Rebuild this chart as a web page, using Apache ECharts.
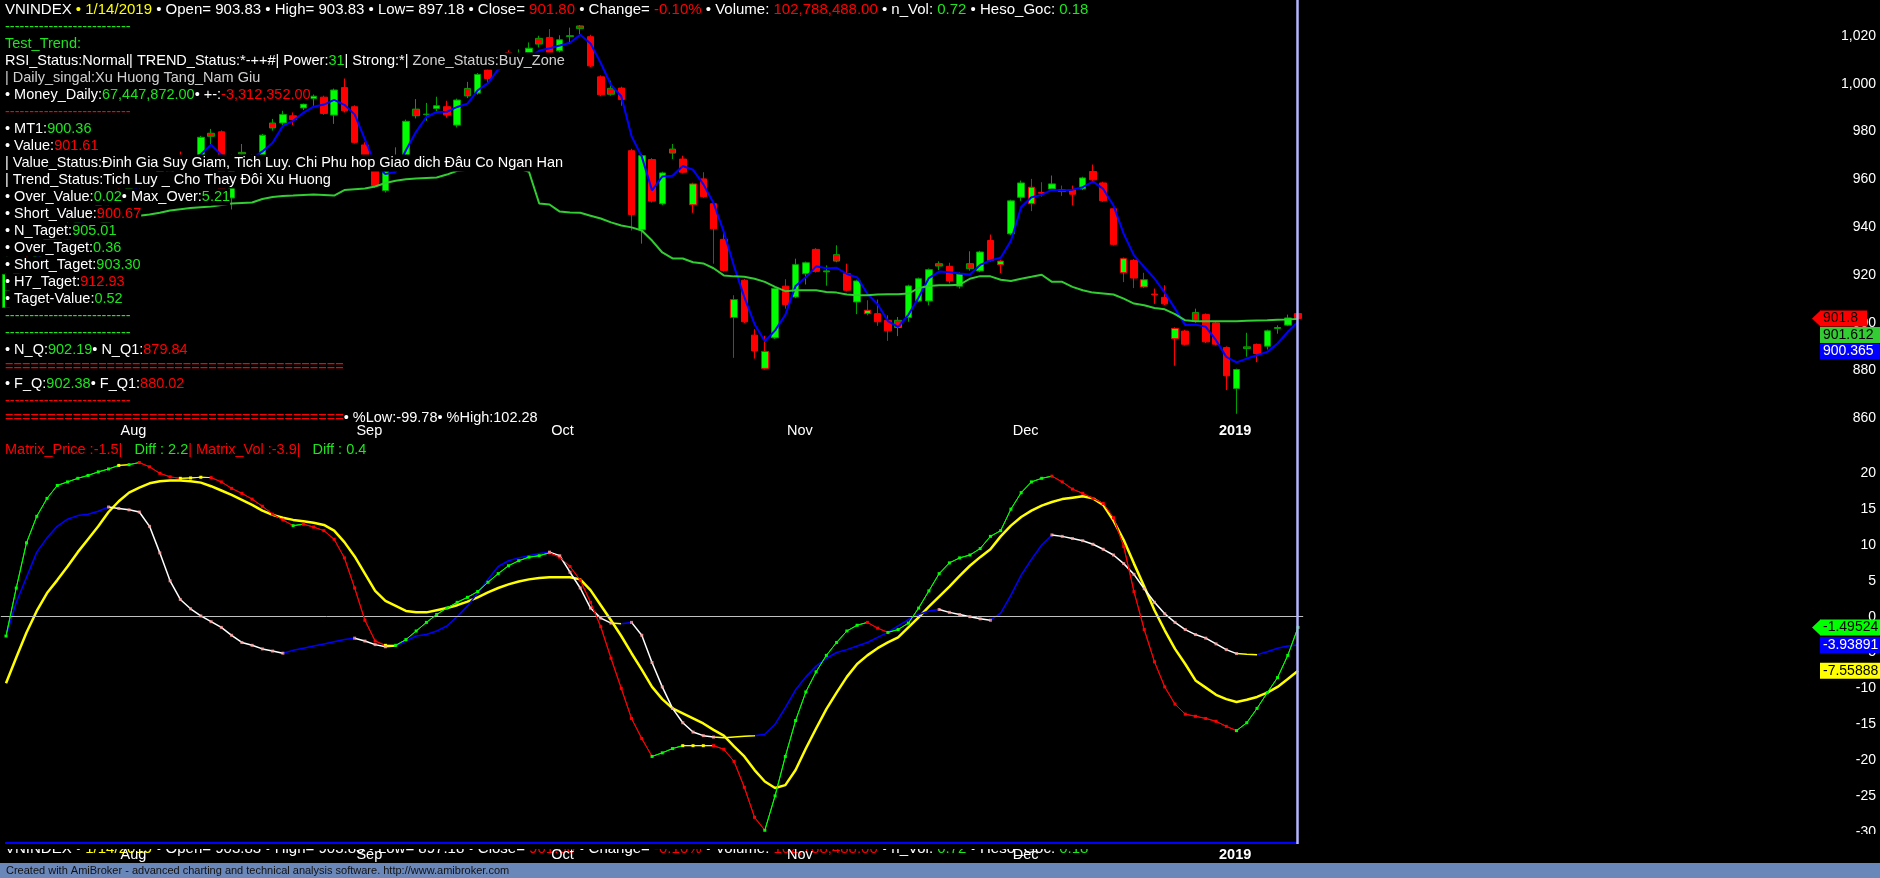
<!DOCTYPE html>
<html><head><meta charset="utf-8">
<script src="https://cdn.jsdelivr.net/npm/echarts@6/dist/echarts.min.js"></script>
<style>html,body{margin:0;padding:0;background:#000;}#c{width:1880px;height:878px;}</style>
</head><body><div id="c"></div>
<script>
// ---------------- DATA ----------------
const monthDays = [
  ['2018-07', [18,19,20,23,24,25,26,27,30,31]],
  ['2018-08', [1,2,3,6,7,8,9,10,13,14,15,16,17,20,21,22,23,24,27,28,29,30,31]],
  ['2018-09', [4,5,6,7,10,11,12,13,14,17,18,19,20,21,24,25,26,27,28]],
  ['2018-10', [1,2,3,4,5,8,9,10,11,12,15,16,17,18,19,22,23,24,25,26,29,30,31]],
  ['2018-11', [1,2,5,6,7,8,9,12,13,14,15,16,19,20,21,22,23,26,27,28,29,30]],
  ['2018-12', [3,4,5,6,7,10,11,12,13,14,17,18,19,20,21,24,25,26,27,28,31]],
  ['2019-01', [2,3,4,7,8,9,10,11,14]]
];
const monthTickLabels = ['', 'Aug', 'Sep', 'Oct', 'Nov', 'Dec', '2019'];

// [open, close, low, high]
const ohlc = [
[906.4,920.2,904.5,921.5],[920.5,926.0,918.0,927.5],[926.5,924.0,921.5,929.0],[924.5,932.0,923.5,933.0],[932.5,936.8,930.5,938.0],
[937.0,934.5,932.5,939.0],[935.0,941.5,934.0,942.5],[942.0,945.8,940.5,947.0],[946.0,944.0,942.5,948.0],[944.5,950.5,943.5,951.5],
[951.0,954.2,948.5,955.5],[954.5,952.0,950.5,957.0],[952.5,957.8,951.5,958.5],[958.0,961.2,956.0,962.5],[961.0,959.5,957.5,963.0],
[959.8,963.6,958.5,964.8],[963.0,966.8,961.5,967.5],[968.5,966.0,963.5,971.6],[966.0,967.8,964.8,969.8],[967.5,977.6,966.8,978.2],
[979.3,978.0,974.1,981.1],[979.9,955.0,953.0,980.5],[952.2,969.5,947.4,970.3],[971.3,970.6,968.5,974.8],[970.0,966.0,963.0,970.4],
[966.5,978.5,965.5,979.0],[983.6,981.5,980.4,985.3],[983.6,987.1,982.5,988.7],[986.6,985.0,982.7,988.0],[989.9,991.5,989.0,992.5],
[993.8,994.8,990.8,995.5],[994.4,987.6,987.0,995.0],[986.9,997.4,983.2,998.0],[998.4,988.7,988.0,1002.2],[990.4,975.5,975.0,991.0],
[974.4,966.0,964.5,975.5],[966.5,957.4,956.5,967.0],[955.3,963.3,954.5,964.0],[964.0,969.0,963.5,973.4],[968.0,984.3,967.0,985.0],
[989.4,986.6,985.5,993.6],[987.1,987.3,984.5,992.0],[989.7,990.8,988.5,994.6],[990.4,986.9,985.8,992.9],[982.7,993.2,981.7,993.8],
[998.0,994.9,994.0,1000.8],[996.1,1003.9,995.5,1004.5],[1005.8,1002.2,999.9,1006.5],[1007.5,1012.0,1007.0,1013.0],[1013.0,1009.0,1008.0,1014.0],
[1012.5,1010.0,1008.5,1014.4],[1013.1,1014.9,1011.5,1017.3],[1019.0,1016.6,1015.2,1020.1],[1019.4,1013.1,1012.5,1022.9],[1013.8,1018.4,1013.0,1020.3],
[1019.8,1020.1,1016.6,1023.5],[1024.2,1023.1,1020.7,1024.6],[1019.7,1007.5,1007.0,1020.5],[1002.9,995.4,994.8,1003.5],[998.1,995.6,995.0,1001.3],
[998.2,993.4,990.8,998.8],[972.0,945.3,938.6,972.8],[938.9,969.9,933.1,970.5],[968.3,950.9,950.3,968.9],[949.8,962.7,949.2,963.2],
[972.7,971.0,968.5,974.8],[968.5,963.0,962.5,969.9],[949.4,958.1,946.0,958.6],[960.2,952.8,952.3,963.0],[949.8,939.3,924.7,950.3],
[934.9,921.9,921.4,938.2],[902.2,909.7,885.3,911.5],[917.8,900.4,899.9,918.3],[894.8,888.2,885.0,897.3],[880.9,888.0,880.4,894.5],
[893.7,914.3,893.2,914.8],[915.3,907.6,905.9,918.2],[910.8,924.3,910.3,926.8],[920.5,925.1,916.0,925.6],[930.7,921.5,921.0,931.2],
[921.3,921.7,915.5,924.0],[928.5,925.8,925.3,932.4],[920.5,913.6,913.1,924.7],[908.7,917.5,903.6,918.0],[903.8,905.2,903.1,909.4],
[903.8,900.4,898.7,909.7],[901.0,896.6,892.4,903.1],[901.0,898.0,894.4,902.4],[902.2,915.4,900.4,915.9],[909.1,918.4,908.6,918.9],
[909.1,922.2,907.3,922.7],[924.7,923.7,922.0,925.7],[923.6,917.5,916.4,925.1],[915.3,920.5,914.3,921.0],[924.7,922.6,921.8,929.9],
[921.7,929.6,921.2,930.1],[934.4,926.1,925.6,936.9],[924.3,925.8,920.8,926.3],[937.2,951.0,936.7,951.5],[952.5,958.5,951.0,959.5],
[949.8,956.7,946.7,960.2],[954.5,954.2,952.8,958.8],[956.0,958.1,955.5,961.6],[955.7,954.9,953.1,957.4],[955.7,953.8,949.1,957.4],
[956.0,960.6,955.5,961.1],[963.3,959.8,959.3,966.2],[958.5,951.1,950.6,959.0],[947.7,932.8,932.3,948.2],[921.0,926.8,917.0,927.3],
[926.1,918.7,914.5,926.6],[915.0,918.0,914.5,920.9],[912.0,911.7,907.9,914.3],[910.6,907.9,907.4,915.7],[893.4,897.6,882.0,898.1],
[896.5,891.0,890.5,897.0],[904.3,900.6,900.0,905.9],[903.4,892.0,891.5,903.9],[899.9,891.0,890.5,900.4],[889.6,877.8,871.8,890.1],
[872.5,880.4,861.9,880.8],[889.9,889.2,885.8,895.8],[890.9,887.1,883.5,891.3],[890.2,896.6,888.8,897.1],[897.6,898.0,895.4,898.9],
[899.0,902.0,898.6,903.4],[903.83,901.80,897.18,903.83]
];

// blue line (MT1)
const mt1 = [915.0,918.5,923.4,927.3,930.9,934.4,937.6,940.6,943.8,946.8,
 949.6,952.2,954.7,957.0,959.5,961.4,963.3,965.5,966.9,970.5,
 974.5,970.2,967.5,965.0,968.7,971.7,975.3,982.4,984.5,987.9,
 990.4,991.3,993.3,991.2,987.2,976.7,966.3,962.2,963.2,972.2,
 980.0,986.1,988.2,988.3,990.3,991.7,997.3,1000.3,1006.0,1007.7,
 1010.3,1011.3,1013.8,1014.9,1016.0,1017.2,1020.5,1016.9,1008.7,999.5,
 994.8,978.1,969.5,955.4,961.2,961.5,965.6,964.0,958.0,950.1,
 938.0,923.6,910.7,899.4,892.2,896.8,903.3,915.4,919.0,923.6,
 922.8,923.0,920.4,919.0,912.1,907.7,900.7,898.3,903.3,910.6,
 918.7,921.4,921.1,920.6,920.2,924.2,926.1,927.2,934.3,948.4,
 952.5,953.5,955.7,955.3,955.7,956.7,959.1,956.0,949.1,937.2,
 928.2,923.3,918.5,912.6,905.9,899.0,899.2,898.3,892.7,885.7,
 883.4,885.0,886.4,887.8,891.3,896.2,900.365];

// green line (Value)
const valueLine = [928.0,929.5,931.0,932.5,934.0,935.5,937.0,938.5,940.0,941.2,
 942.3,943.3,944.2,944.8,945.3,946.0,947.0,947.5,948.0,948.3,
 948.6,949.3,949.9,950.1,950.3,951.8,952.6,953.0,953.2,953.5,
 953.7,953.5,953.2,955.5,955.9,956.2,957.0,958.5,959.4,960.0,
 960.4,960.6,960.8,962.0,963.6,964.0,964.5,965.0,965.2,965.0,
 964.5,963.2,949.9,949.5,946.5,946.1,946.0,944.8,943.6,942.0,
 940.7,939.9,938.6,934.4,929.4,926.9,926.9,925.3,924.8,922.8,
 919.8,919.4,919.2,918.4,917.1,915.0,913.2,913.6,913.6,913.6,
 912.9,912.6,911.8,911.5,911.5,911.8,911.9,911.9,912.2,914.5,
 915.4,915.7,915.7,915.9,918.4,919.5,919.4,918.0,917.5,918.4,
 919.2,920.1,917.1,917.1,915.0,913.6,912.6,912.2,911.8,910.1,
 908.0,907.3,906.2,905.6,903.6,901.0,900.6,900.6,900.6,900.6,
 900.6,900.8,900.9,901.0,901.2,901.3,901.612];

// lower pane
const matrixPrice = [-2.7,4.0,10.3,14.0,16.5,18.3,18.8,19.3,19.7,20.2,
 20.6,21.1,21.2,21.5,20.9,20.0,19.5,19.3,19.35,19.45,
 19.4,18.8,17.9,17.2,16.4,15.4,14.3,13.5,12.7,12.9,
 12.5,12.0,10.8,8.2,4.0,-0.5,-3.4,-4.0,-4.0,-3.2,
 -2.0,-0.8,0.3,1.2,2.0,2.7,3.5,4.8,6.0,7.1,
 7.8,8.3,8.5,8.9,8.3,7.0,5.1,2.0,-1.4,-5.8,
 -10.0,-14.2,-17.0,-19.5,-19.0,-18.4,-18.0,-18.0,-18.0,-18.0,
 -18.5,-20.2,-23.8,-28.0,-29.8,-25.0,-19.5,-14.5,-10.5,-7.7,
 -5.4,-3.6,-2.0,-1.2,-0.8,-1.6,-2.2,-1.8,-0.9,1.2,
 3.6,6.0,7.5,8.2,8.6,9.5,11.2,12.0,15.0,17.3,
 18.8,19.3,19.6,18.8,17.8,17.2,16.5,15.8,13.8,9.8,
 3.5,-1.8,-6.3,-9.8,-12.2,-13.6,-13.9,-14.2,-14.6,-15.3,
 -15.9,-14.8,-12.8,-10.6,-8.5,-5.4,-1.49524];

const matrixVol = [-2.7,2.0,5.5,9.0,11.0,12.6,13.6,14.1,14.3,14.7,
 15.3,15.1,14.9,14.6,12.6,8.9,5.0,2.4,1.1,0.1,
 -0.7,-1.5,-2.6,-3.6,-4.0,-4.5,-4.8,-5.1,-4.7,-4.4,
 -4.1,-3.8,-3.5,-3.2,-3.0,-3.4,-3.9,-4.2,-4.1,-3.4,
 -2.7,-2.5,-2.0,-1.3,0.0,1.5,3.3,5.2,7.0,7.8,
 8.2,8.5,8.8,9.0,8.5,6.2,4.0,1.2,-0.2,-0.9,
 -1.0,-0.8,-2.6,-6.4,-9.8,-12.8,-14.8,-16.1,-16.6,-16.8,
 -16.9,-16.8,-16.7,-16.6,-16.4,-15.0,-12.7,-10.2,-8.4,-6.9,
 -5.8,-5.0,-4.6,-4.1,-3.6,-2.9,-2.2,-1.3,-0.4,0.3,
 0.8,1.0,0.6,0.3,0.0,-0.3,-0.5,0.5,3.0,5.8,
 8.0,10.0,11.4,11.2,10.9,10.6,10.1,9.4,8.6,7.4,
 5.9,3.9,2.0,0.4,-0.8,-1.8,-2.5,-3.0,-3.8,-4.6,
 -5.15,-5.25,-5.3,-4.9,-4.4,-4.1,-3.93891];

const signalLine = [-9.3,-5.7,-2.2,0.8,3.3,5.1,7.0,9.0,10.8,12.6,
 14.6,16.1,17.3,18.0,18.6,18.9,19.0,19.0,18.9,18.7,
 18.2,17.6,17.0,16.3,15.6,14.8,14.2,13.8,13.5,13.3,
 13.1,12.8,12.0,10.4,8.4,6.0,3.6,2.2,1.5,0.8,
 0.6,0.6,0.9,1.2,1.6,2.1,2.7,3.4,4.0,4.5,
 4.9,5.2,5.4,5.5,5.5,5.5,5.2,3.7,1.6,-0.5,
 -2.7,-5.1,-7.4,-9.8,-11.5,-12.8,-13.5,-14.2,-14.9,-15.8,
 -16.6,-18.1,-19.5,-21.4,-23.0,-23.9,-23.5,-21.4,-18.4,-15.6,
 -12.9,-10.6,-8.4,-6.6,-5.4,-4.4,-3.6,-2.9,-1.5,-0.1,
 1.4,2.8,4.2,5.7,7.1,8.3,9.4,11.2,12.7,13.9,
 14.8,15.5,16.0,16.4,16.6,16.8,16.5,15.6,13.4,10.7,
 7.4,4.2,0.9,-1.9,-4.5,-6.6,-8.9,-9.9,-10.9,-11.5,
 -11.9,-11.6,-11.2,-10.6,-9.8,-8.7,-7.55888];

const priceAxis = {min: 860, max: 1020, interval: 20};
const oscAxis = {min: -30, max: 20, interval: 5};
const lastClose = 901.80;

// ---------------- TEXT ----------------
const W = '#ffffff', G = '#1ee61e', R = '#ff0000', Y = '#ffff00', L = '#d0d0d0';
const DASH = '--------------------------';
const EQ = '========================================';
const titleParts = [['VNINDEX', W], [' \u2022 1/14/2019', Y], [' \u2022 Open= 903.83 \u2022 High= 903.83 \u2022 Low= 897.18 \u2022 Close= ', W], ['901.80', R],
  [' \u2022 Change= ', W], ['-0.10%', R], [' \u2022 Volume: ', W], ['102,788,488.00', R], [' \u2022 n_Vol: ', W], ['0.72', G], [' \u2022 Heso_Goc: ', W], ['0.18', G]];
const textRows = [
  titleParts,
  [[DASH, G]],
  [['Test_Trend:', G]],
  [['RSI_Status:Normal| TREND_Status:*-++#| Power:', W], ['31', G], ['| Strong:*| ', W], ['Zone_Status:Buy_Zone', L]],
  [['| Daily_singal:Xu Huong Tang_Nam Giu', L]],
  [['\u2022 Money_Daily:', W], ['67,447,872.00', G], ['\u2022 +-:', W], ['-3,312,352.00', R]],
  [[DASH, R]],
  [['\u2022 MT1:', W], ['900.36', G]],
  [['\u2022 Value:', W], ['901.61', R]],
  [['| Value_Status:\u0110inh Gia Suy Giam, Tich Luy. Chi Phu hop Giao dich \u0110\u00e2u Co Ngan Han', W]],
  [['| Trend_Status:Tich Luy _ Cho Thay \u0110\u00f4i Xu Huong', W]],
  [['\u2022 Over_Value:', W], ['0.02', G], ['\u2022 Max_Over:', W], ['5.21', G]],
  [['\u2022 Short_Value:', W], ['900.67', R]],
  [['\u2022 N_Taget:', W], ['905.01', G]],
  [['\u2022 Over_Taget:', W], ['0.36', G]],
  [['\u2022 Short_Taget:', W], ['903.30', G]],
  [['\u2022 H7_Taget:', W], ['912.93', R]],
  [['\u2022 Taget-Value:', W], ['0.52', G]],
  [[DASH, G]],
  [[DASH, G]],
  [['\u2022 N_Q:', W], ['902.19', G], ['\u2022 N_Q1:', W], ['879.84', R]],
  [[EQ, R]],
  [['\u2022 F_Q:', W], ['902.38', G], ['\u2022 F_Q1:', W], ['880.02', R]],
  [[DASH, R]],
  [[EQ, R], ['\u2022 %Low:-99.78\u2022 %High:102.28', W]]
];
const oscTitle = [['Matrix_Price :-1.5|', R], ['   Diff : 2.2', G], ['| Matrix_Vol :-3.9|', R], ['   Diff : 0.4', G]];

// ---------------- BUILD ----------------
const dates = [];
const monthStart = [];
monthDays.forEach(([ym, days]) => { monthStart.push(dates.length); days.forEach(d => dates.push(ym + '-' + String(d).padStart(2, '0'))); });

const N = dates.length;
const FONT = '14.5px "Liberation Sans", Arial, sans-serif';
const TITLEFONT = '15px "Liberation Sans", Arial, sans-serif';
const TAGFONT = '14px "Liberation Sans", Arial, sans-serif';

const candleItems = ohlc.map((v, j) => {
  const prev = j > 0 ? ohlc[j - 1][1] : v[0];
  const bc = v[1] >= prev ? '#00a000' : '#ff0000';
  return {value: v, itemStyle: {borderColor: bc, borderColor0: bc}};
});

function sections(vals, upC, downC, flatC, thr) {
  const pieces = [];
  let start = 0, cur = null;
  for (let j = 0; j < vals.length - 1; j++) {
    const d = vals[j + 1] - vals[j];
    const c = Math.abs(d) < thr ? flatC : (d > 0 ? upC : downC);
    if (c !== cur) {
      if (cur !== null) pieces.push({gte: start, lt: j, color: cur});
      start = j; cur = c;
    }
  }
  pieces.push({gte: start, lte: vals.length - 1, color: cur});
  return pieces;
}
const THR = 0.15;
const piecesA = sections(matrixPrice, '#00ff00', '#ff0000', '#ffff00', THR);
const piecesB = sections(matrixVol, '#0000ff', '#ffffff', '#ffff00', THR);
const bDots = matrixVol.map((v, j) => {
  const downIn = j > 0 && v < matrixVol[j - 1] - THR;
  const downOut = j < N - 1 && matrixVol[j + 1] < v - THR;
  return (downIn || downOut) ? v : '-';
});

const GRID_LEFT = 0.873, GRID_W = 1302.3;
const LABEL_RIGHT = 1876;
const axisX = (gi) => ({type: 'category', data: dates, gridIndex: gi, boundaryGap: true,
  axisLine: {show: false}, axisTick: {show: false}, axisLabel: {show: false}, splitLine: {show: false}});
const axisY = (gi, cfg, fmt) => ({type: 'value', gridIndex: gi, position: 'right', min: cfg.min, max: cfg.max, interval: cfg.interval,
  axisLine: {show: false}, axisTick: {show: false}, splitLine: {show: false},
  axisLabel: {color: '#ffffff', fontSize: 14, fontFamily: 'Liberation Sans', align: 'right',
    margin: LABEL_RIGHT - (GRID_LEFT + GRID_W), formatter: fmt}});

const option = {
  backgroundColor: '#000000',
  animation: false,
  grid: [
    {left: GRID_LEFT, width: GRID_W, top: 36, height: 382.3, outerBoundsMode: 'none'},
    {left: GRID_LEFT, width: GRID_W, top: 473.3, height: 358.4, outerBoundsMode: 'none'}
  ],
  xAxis: [axisX(0), axisX(1)],
  yAxis: [
    axisY(0, priceAxis, v => v.toLocaleString('en-US')),
    axisY(1, oscAxis, v => String(v))
  ],
  visualMap: [
    {type: 'piecewise', show: false, dimension: 0, seriesIndex: 3, pieces: piecesA},
    {type: 'piecewise', show: false, dimension: 0, seriesIndex: 4, pieces: piecesB}
  ],
  series: [
    {type: 'candlestick', xAxisIndex: 0, yAxisIndex: 0, data: candleItems, barWidth: 7, clip: false, z: 2,
      itemStyle: {color: '#00ff00', color0: '#ff0000', borderColor: '#00a000', borderColor0: '#ff0000', borderWidth: 1}},
    {type: 'line', xAxisIndex: 0, yAxisIndex: 0, data: mt1, symbol: 'none', clip: false, z: 3,
      lineStyle: {color: '#0000ff', width: 2}, itemStyle: {color: '#0000ff'}},
    {type: 'line', xAxisIndex: 0, yAxisIndex: 0, data: valueLine, symbol: 'none', clip: false, z: 3,
      lineStyle: {color: '#32cd32', width: 2}, itemStyle: {color: '#32cd32'}},
    {type: 'line', xAxisIndex: 1, yAxisIndex: 1, data: matrixPrice, symbol: 'rect', symbolSize: 3, showSymbol: true, showAllSymbol: true,
      clip: false, z: 5, lineStyle: {width: 1}},
    {type: 'line', xAxisIndex: 1, yAxisIndex: 1, data: matrixVol, symbol: 'none', clip: false, z: 4, lineStyle: {width: 1.5}},
    {type: 'scatter', xAxisIndex: 1, yAxisIndex: 1, data: bDots, symbol: 'rect', symbolSize: 3, z: 6,
      itemStyle: {color: '#ffa0a0'}},
    {type: 'line', xAxisIndex: 1, yAxisIndex: 1, data: signalLine, symbol: 'none', clip: false, z: 3,
      lineStyle: {color: '#ffff00', width: 2.5}, itemStyle: {color: '#ffff00'},
      markLine: {silent: true, symbol: ['none', 'none'], label: {show: false},
        lineStyle: {color: '#c0c0c0', width: 1, type: 'solid'}, data: [{yAxis: 0}]}}
  ]
};

const chart = echarts.init(document.getElementById('c'), null, {renderer: 'canvas'});
chart.setOption(option);

// ---------------- OVERLAYS ----------------
function richText(x, y, parts, z, bg, font) {
  const f = font || FONT;
  let txt = ''; const rich = {};
  parts.forEach(([s, col], k) => { const key = 'p' + k; rich[key] = {fill: col, font: f}; txt += '{' + key + '|' + s + '}'; });
  const style = {text: txt, rich: rich, font: f, fill: '#fff', verticalAlign: 'middle', align: 'left', lineHeight: 17};
  if (bg) style.backgroundColor = bg;
  return {type: 'text', x: x, y: y, z: z, silent: true, style: style};
}
const g = [];
textRows.forEach((parts, k) => g.push(richText(5, 10 + 17 * k, parts, 100, '#000000', k === 0 ? TITLEFONT : FONT)));
g.push(richText(5, 450, oscTitle, 100, null));

// bottom (clipped) title + cover
g.push(richText(5, 849, titleParts, 90, null, TITLEFONT));
g.push({type: 'rect', z: 95, silent: true, shape: {x: 0, y: 834, width: 1880, height: 15}, style: {fill: '#000000'}});

// separators
g.push({type: 'line', z: 120, silent: true, shape: {x1: 5, y1: 843, x2: 1297, y2: 843}, style: {stroke: '#0000ff', lineWidth: 2}});
g.push({type: 'line', z: 120, silent: true, shape: {x1: 1297.5, y1: 0, x2: 1297.5, y2: 844}, style: {stroke: '#b4b4ff', lineWidth: 2.5}});

// month labels
monthStart.forEach((idx, m) => {
  const lab = monthTickLabels[m];
  if (!lab) return;
  const isYear = /^\d{4}$/.test(lab);
  const x = chart.convertToPixel({xAxisIndex: 0}, idx) + (isYear ? 3 : 12);
  const font = (isYear ? 'bold ' : '') + FONT;
  [431, 855].forEach(y => g.push({type: 'text', z: 130, silent: true, x: x, y: y,
    style: {text: lab, font: font, fill: '#ffffff', verticalAlign: 'middle', align: 'left'}}));
});

// price tags
function tags(list, yAxisIndex) {
  const pts = list.map(t => Object.assign({}, t, {y: chart.convertToPixel({yAxisIndex: yAxisIndex}, t.value)}));
  pts.sort((a, b) => a.y - b.y);
  for (let k = 1; k < pts.length; k++) if (pts[k].y < pts[k - 1].y + 16.5) pts[k].y = pts[k - 1].y + 16.5;
  pts.forEach(t => {
    const w = t.text.length * 7.8 + 8;
    if (t.arrow) g.push({type: 'polygon', z: 140, silent: true, shape: {points: [[1812, t.y], [1820.5, t.y - 8], [1820.5, t.y + 8]]}, style: {fill: t.bg}});
    g.push({type: 'rect', z: 140, silent: true, shape: {x: 1820, y: t.y - 8, width: w, height: 16}, style: {fill: t.bg}});
    g.push({type: 'text', z: 141, silent: true, x: 1823, y: t.y,
      style: {text: t.text, font: TAGFONT, fill: t.fg, verticalAlign: 'middle', align: 'left'}});
  });
}
tags([
  {value: lastClose, text: String(lastClose.toFixed(1)), bg: '#ff0000', fg: '#000000', arrow: true},
  {value: valueLine[N - 1], text: valueLine[N - 1].toFixed(3), bg: '#33cc33', fg: '#000000'},
  {value: mt1[N - 1], text: mt1[N - 1].toFixed(3), bg: '#0000ff', fg: '#ffffff'}
], 0);
tags([
  {value: matrixPrice[N - 1], text: matrixPrice[N - 1].toFixed(5), bg: '#00ff00', fg: '#000000', arrow: true},
  {value: matrixVol[N - 1], text: matrixVol[N - 1].toFixed(5), bg: '#0000ff', fg: '#ffffff'},
  {value: signalLine[N - 1], text: signalLine[N - 1].toFixed(5), bg: '#ffff00', fg: '#000000'}
], 1);

// footer
g.push({type: 'rect', z: 150, silent: true, shape: {x: 0, y: 863, width: 1880, height: 15}, style: {fill: '#6a87b9'}});
g.push({type: 'text', z: 151, silent: true, x: 6, y: 870.5,
  style: {text: 'Created with AmiBroker - advanced charting and technical analysis software. http://www.amibroker.com',
    font: '11px "Liberation Sans", Arial, sans-serif', fill: '#111111', verticalAlign: 'middle', align: 'left'}});

// sanity
const lens = [ohlc.length, mt1.length, valueLine.length, matrixPrice.length, matrixVol.length, signalLine.length];
if (lens.some(l => l !== N)) g.push({type: 'text', z: 200, x: 600, y: 600, style: {text: 'LEN MISMATCH ' + N + ' ' + lens.join(','), fill: '#ff00ff', font: '20px sans-serif'}});

chart.setOption({graphic: g});
</script></body></html>
